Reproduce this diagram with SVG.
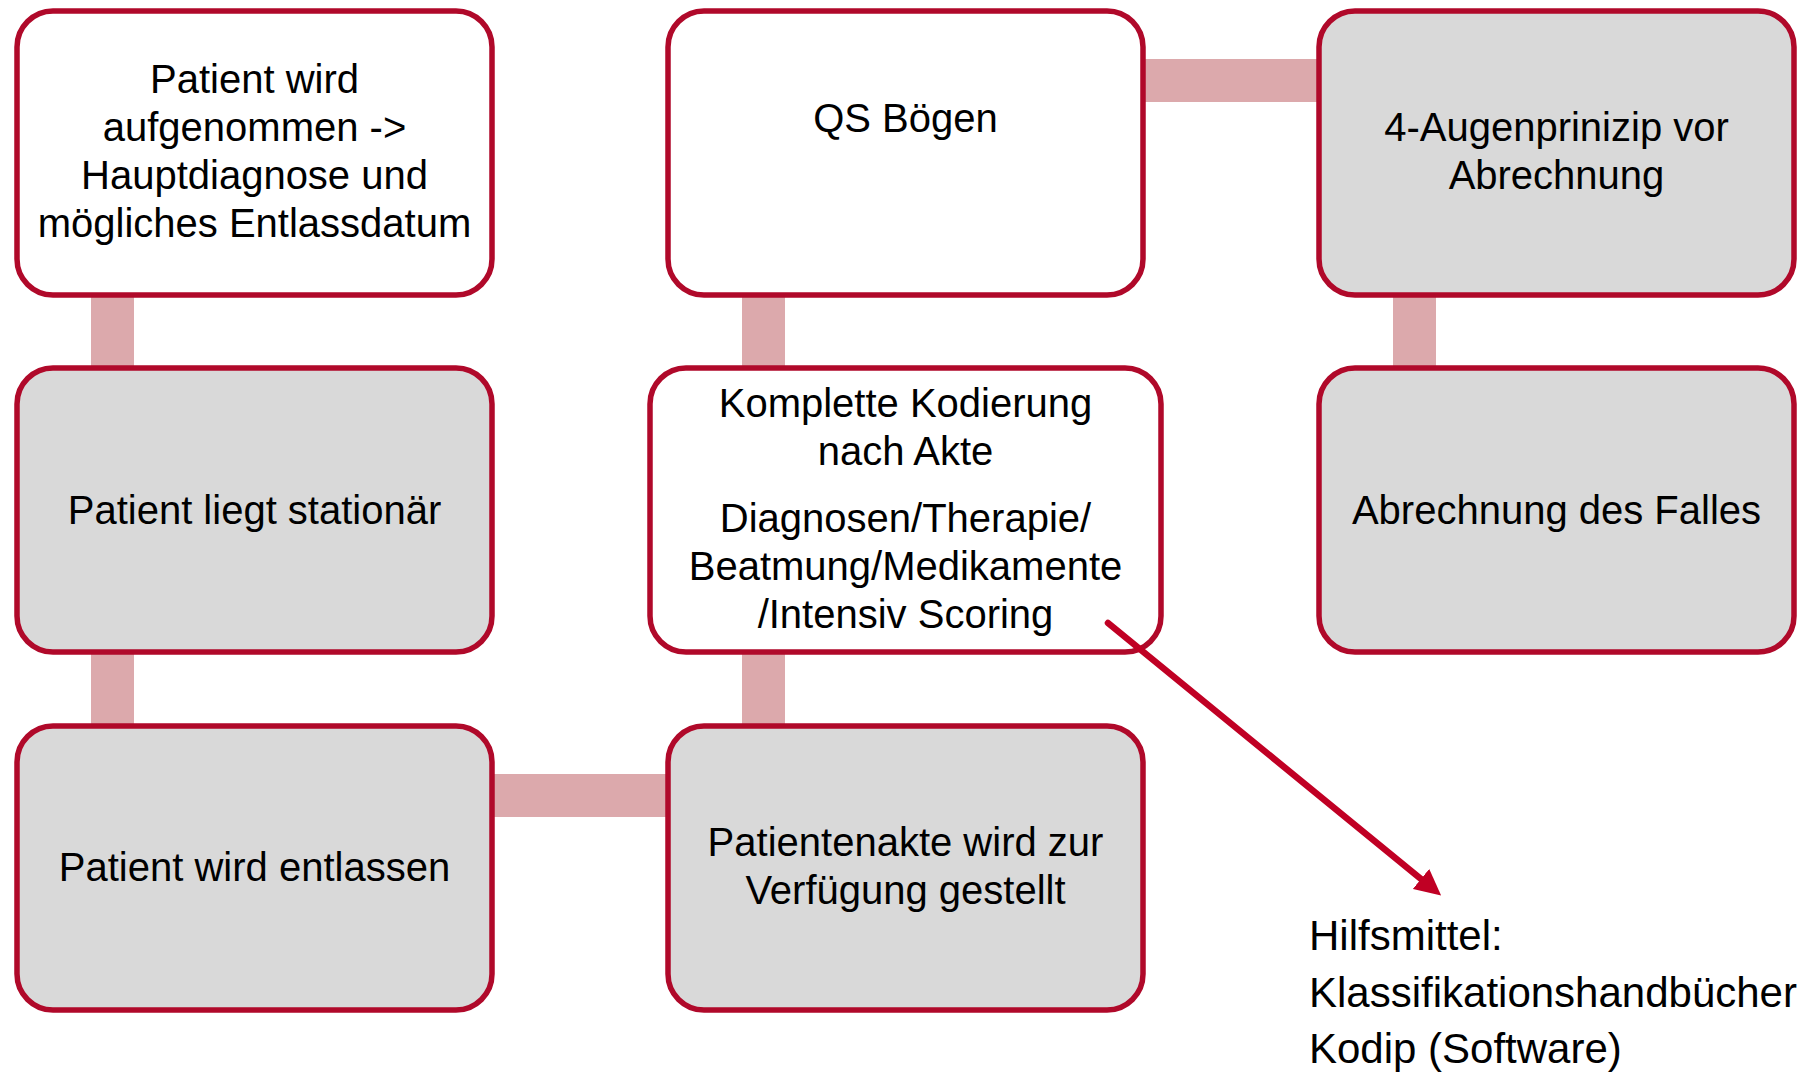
<svg xmlns="http://www.w3.org/2000/svg" width="1816" height="1072" viewBox="0 0 1816 1072">
<defs>
<style>
.box{stroke:#B0092A;stroke-width:5.5}
.w{fill:#FFFFFF}
.g{fill:#D9D9D9}
.t{font-family:"Liberation Sans",Arial,sans-serif;font-size:40px;fill:#000;text-anchor:middle}
.h{font-family:"Liberation Sans",Arial,sans-serif;font-size:42px;fill:#000}
.c{fill:#DCA9AC}
</style>
<marker id="ah" markerUnits="userSpaceOnUse" viewBox="0 0 26 26" refX="0" refY="13" markerWidth="26" markerHeight="26" orient="auto">
<path d="M0,0 L26,13 L0,26 z" fill="#C00024"/>
</marker>
</defs>
<rect width="1816" height="1072" fill="#FFFFFF"/>
<g id="connectors">
<rect class="c" x="91" y="296" width="43" height="72"/>
<rect class="c" x="91" y="653" width="43" height="73"/>
<rect class="c" x="742" y="296" width="43" height="72"/>
<rect class="c" x="742" y="653" width="43" height="73"/>
<rect class="c" x="1393" y="296" width="43" height="72"/>
<rect class="c" x="1143" y="59" width="176" height="43"/>
<rect class="c" x="492" y="774" width="177" height="43"/>
</g>
<g id="n1">
<rect class="box w" x="17" y="11" width="475" height="284" rx="36"/>
<text class="t" x="254.5"><tspan x="254.5" y="93">Patient wird</tspan><tspan x="254.5" y="141">aufgenommen -&gt;</tspan><tspan x="254.5" y="189">Hauptdiagnose und</tspan><tspan x="254.5" y="237">mögliches Entlassdatum</tspan></text>
</g>
<g id="n2">
<rect class="box g" x="17" y="368" width="475" height="284" rx="36"/>
<text class="t" x="254.5" y="524">Patient liegt stationär</text>
</g>
<g id="n3">
<rect class="box g" x="17" y="726" width="475" height="284" rx="36"/>
<text class="t" x="254.5" y="881">Patient wird entlassen</text>
</g>
<g id="n4">
<rect class="box g" x="668" y="726" width="475" height="284" rx="36"/>
<text class="t"><tspan x="905.5" y="856">Patientenakte wird zur</tspan><tspan x="905.5" y="904">Verfügung gestellt</tspan></text>
</g>
<g id="n5">
<rect class="box w" x="650" y="368" width="511" height="284" rx="36"/>
<text class="t"><tspan x="905.5" y="417">Komplette Kodierung</tspan><tspan x="905.5" y="465">nach Akte</tspan><tspan x="905.5" y="532">Diagnosen/Therapie/</tspan><tspan x="905.5" y="580">Beatmung/Medikamente</tspan><tspan x="905.5" y="628">/Intensiv Scoring</tspan></text>
</g>
<g id="n6">
<rect class="box w" x="668" y="11" width="475" height="284" rx="36"/>
<text class="t" x="905.5" y="132">QS Bögen</text>
</g>
<g id="n7">
<rect class="box g" x="1319" y="11" width="475" height="284" rx="36"/>
<text class="t"><tspan x="1556.5" y="141">4-Augenprinizip vor</tspan><tspan x="1556.5" y="189">Abrechnung</tspan></text>
</g>
<g id="n8">
<rect class="box g" x="1319" y="368" width="475" height="284" rx="36"/>
<text class="t" x="1556.5" y="524">Abrechnung des Falles</text>
</g>
<g id="arrow">
<path d="M1108,623 L1421,879" stroke="#C00024" stroke-width="6.5" stroke-linecap="round" fill="none" marker-end="url(#ah)"/>
</g>
<g id="note">
<text class="h"><tspan x="1309" y="950">Hilfsmittel:</tspan><tspan x="1309" y="1007">Klassifikationshandbücher</tspan><tspan x="1309" y="1063">Kodip (Software)</tspan></text>
</g>
</svg>
